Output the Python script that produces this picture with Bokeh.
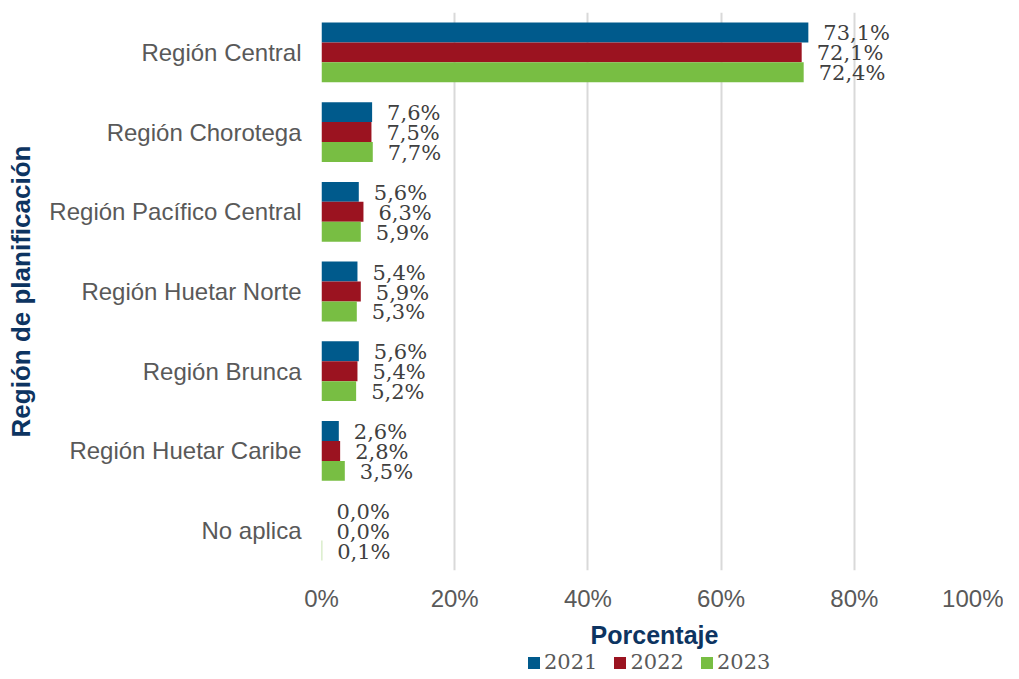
from bokeh.plotting import figure
from bokeh.models import (ColumnDataSource, FactorRange, Range1d, FixedTicker,
                          NumeralTickFormatter, Legend, LegendItem)
from bokeh.layouts import column
from bokeh.transform import dodge
from bokeh.core.properties import value
from bokeh.embed import file_html
from bokeh.resources import INLINE

regions = ["Región Central", "Región Chorotega", "Región Pacífico Central",
           "Región Huetar Norte", "Región Brunca", "Región Huetar Caribe", "No aplica"]
years = ["2021", "2022", "2023"]
v2021 = [73.1, 7.6, 5.6, 5.4, 5.6, 2.6, 0.0]
v2022 = [72.1, 7.5, 6.3, 5.9, 5.4, 2.8, 0.0]
v2023 = [72.4, 7.7, 5.9, 5.3, 5.2, 3.5, 0.1]
colors = ["#005A8C", "#9B1320", "#78BE43"]

def fmt(v):
    return f"{v:.1f}".replace(".", ",") + "%"

src = ColumnDataSource(dict(
    region=regions,
    y2021=[v / 100 for v in v2021], y2022=[v / 100 for v in v2022], y2023=[v / 100 for v in v2023],
    l2021=[fmt(v) for v in v2021], l2022=[fmt(v) for v in v2022], l2023=[fmt(v) for v in v2023],
))

p = figure(y_range=FactorRange(factors=list(reversed(regions))), x_range=Range1d(0, 1),
           frame_width=666, frame_height=558, output_backend="svg", toolbar_location=None,
           min_border_left=321, min_border_top=12, min_border_right=16, min_border_bottom=0)
p.outline_line_color = None
p.background_fill_color = "white"

offsets = [0.25, 0.0, -0.25]
for yr, col, off in zip(years, colors, offsets):
    p.hbar(y=dodge("region", off, range=p.y_range), right="y" + yr, left=0, height=0.25,
           source=src, fill_color=col, line_color=None)
    p.text(x="y" + yr, y=dodge("region", off, range=p.y_range), text="l" + yr, source=src,
           x_offset=15, y_offset=1, text_align="left", text_baseline="middle",
           text_font=value("DejaVu Serif"), text_font_size="21px", text_color="#404040")

p.xaxis.ticker = FixedTicker(ticks=[0, 0.2, 0.4, 0.6, 0.8, 1.0])
p.xaxis.formatter = NumeralTickFormatter(format="0%")
p.xgrid.ticker = FixedTicker(ticks=[0, 0.2, 0.4, 0.6, 0.8, 1.0])
p.xgrid.grid_line_color = "#D9D9D9"
p.xgrid.grid_line_width = 2
p.ygrid.grid_line_color = None

for ax in (p.xaxis[0], p.yaxis[0]):
    ax.axis_line_color = None
    ax.major_tick_line_color = None
    ax.minor_tick_line_color = None
    ax.major_tick_out = 0
    ax.major_tick_in = 0
    ax.major_label_text_font = "Liberation Sans"
    ax.major_label_text_font_size = "24px"
    ax.major_label_text_color = "#595959"
    ax.axis_label_text_font = "Liberation Sans"
    ax.axis_label_text_font_style = "bold"
    ax.axis_label_text_color = "#0D3461"

p.xaxis.axis_label = "Porcentaje"
p.xaxis.axis_label_text_font_size = "25px"
p.xaxis.major_label_standoff = 14
p.xaxis.axis_label_standoff = 6
p.yaxis.axis_label = "Región de planificación"
p.yaxis.axis_label_text_font_size = "26px"
p.yaxis.major_label_standoff = 20
p.yaxis.axis_label_standoff = 10

# legend strip below the chart (frame aligned with the main plot's frame)
lg = figure(width=1003, height=30, output_backend="svg", toolbar_location=None,
            x_range=Range1d(0, 1), y_range=Range1d(0, 1), min_border=0)
lg.outline_line_color = None
lg.axis.visible = False
lg.grid.visible = False
dummy = []
for col in colors:
    dummy.append(lg.hbar(y=[-10], right=[0.1], left=0, height=0.25, fill_color=col, line_color=None))

legend = Legend(items=[LegendItem(label=yr, renderers=[r]) for yr, r in zip(years, dummy)],
                orientation="horizontal", location=(205, 7),
                glyph_width=15, glyph_height=15, label_standoff=3, spacing=15,
                padding=0, margin=0, border_line_color=None, background_fill_alpha=0,
                label_height=20,
                label_text_font="DejaVu Serif", label_text_font_size="21px",
                label_text_color="#595959")
lg.add_layout(legend, "center")

layout = column(p, lg, spacing=0)
open("out.html", "w").write(file_html(layout, INLINE))
